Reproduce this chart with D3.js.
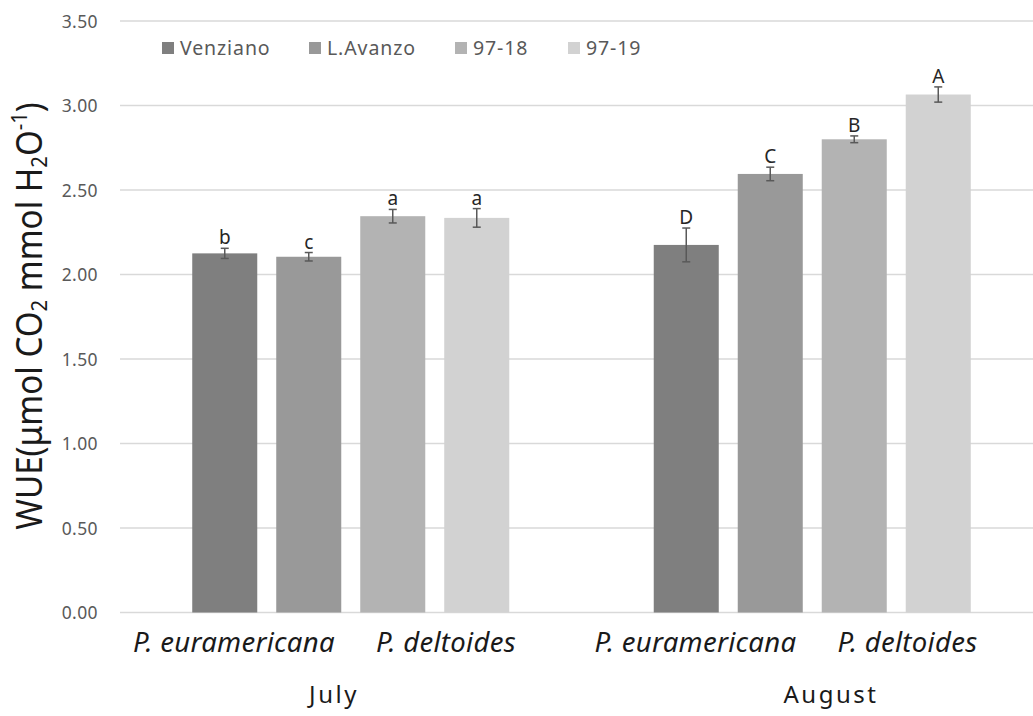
<!DOCTYPE html>
<html>
<head>
<meta charset="utf-8">
<script src="https://cdn.jsdelivr.net/npm/d3@7"></script>
<style>
  html, body { margin: 0; padding: 0; background: #fff; }
  svg { display: block; font-family: "Noto Sans", "Open Sans", sans-serif; }
</style>
</head>
<body>
<svg id="chart" width="1033" height="716"></svg>
<script>
// WUE by clone, July and August
const months = ["July", "August"];
const series = ["Venziano", "L.Avanzo", "97-18", "97-19"];
const species = ["P. euramericana", "P. deltoides"];
const julyValues = [2.125, 2.105, 2.345, 2.335];
const augustValues = [2.175, 2.595, 2.800, 3.065];
const julyErrors = [0.03, 0.025, 0.04, 0.055];
const augustErrors = [0.10, 0.04, 0.02, 0.045];
const julyLetters = ["b", "c", "a", "a"];
const augustLetters = ["D", "C", "B", "A"];
const yTicks = [0, 0.5, 1.0, 1.5, 2.0, 2.5, 3.0, 3.5];
const colors = ["#7f7f7f", "#999999", "#b3b3b3", "#d2d2d2"];

const valuesByMonth = { July: julyValues, August: augustValues };
const errorsByMonth = { July: julyErrors, August: augustErrors };
const lettersByMonth = { July: julyLetters, August: augustLetters };

const rows = [];
months.forEach(m => series.forEach((s, i) => rows.push({
  month: m, series: s, value: valuesByMonth[m][i],
  err: errorsByMonth[m][i], letter: lettersByMonth[m][i]
})));

const svg = d3.select("#chart");
const plotLeft = 120, plotRight = 1033, plotTop = 21, plotBottom = 612.5;

const y = d3.scaleLinear().domain([0, 3.5]).range([plotBottom, plotTop]);
const x0 = d3.scaleBand().domain(months).range([120, 1043]);
const x1 = d3.scaleBand().domain(series).range([0, x0.bandwidth()])
  .paddingInner(0.226).paddingOuter(0.86);
const xs = d3.scaleBand().domain(species).range([8, 432]);
const xm = d3.scalePoint().domain(months).range([334, 831]);
const color = d3.scaleOrdinal().domain(series).range(colors);

// gridlines
svg.append("g").selectAll("line").data(yTicks).join("line")
  .attr("x1", plotLeft).attr("x2", plotRight)
  .attr("y1", d => y(d)).attr("y2", d => y(d))
  .attr("stroke", "#d9d9d9").attr("stroke-width", 1.3);

// y tick labels
const yAxis = d3.axisLeft(y).tickValues(yTicks).tickFormat(d3.format(".2f")).tickSize(0).tickPadding(0);
const gy = svg.append("g").attr("transform", "translate(98,0)").call(yAxis);
gy.select(".domain").remove();
gy.selectAll("text").attr("font-size", 17.5).attr("fill", "#595959")
  .attr("letter-spacing", 0.4)
  .attr("font-family", "Noto Sans, sans-serif").attr("dy", "0.35em");

// bars
const groups = svg.append("g").selectAll("g").data(months).join("g")
  .attr("transform", m => `translate(${x0(m)},0)`);

groups.selectAll("rect").data(m => rows.filter(r => r.month === m)).join("rect")
  .attr("x", d => x1(d.series)).attr("width", x1.bandwidth())
  .attr("y", d => y(d.value)).attr("height", d => y(0) - y(d.value))
  .attr("fill", d => color(d.series));

// error bars
const eb = groups.selectAll("g.err").data(m => rows.filter(r => r.month === m)).join("g")
  .attr("class", "err")
  .attr("transform", d => `translate(${x1(d.series) + x1.bandwidth() / 2},0)`);
eb.append("line").attr("x1", 0).attr("x2", 0)
  .attr("y1", d => y(d.value + d.err)).attr("y2", d => y(d.value - d.err));
eb.append("line").attr("x1", -4).attr("x2", 4)
  .attr("y1", d => y(d.value + d.err)).attr("y2", d => y(d.value + d.err));
eb.append("line").attr("x1", -4).attr("x2", 4)
  .attr("y1", d => y(d.value - d.err)).attr("y2", d => y(d.value - d.err));
eb.selectAll("line").attr("stroke", "#595959").attr("stroke-width", 1.5);

// significance letters
eb.append("text").text(d => d.letter)
  .attr("x", 0).attr("y", d => y(d.value + d.err) - 4)
  .attr("text-anchor", "middle").attr("font-size", 19).attr("fill", "#262626");

// species labels
svg.append("g").selectAll("text")
  .data(months.flatMap(m => species.map(s => ({ m, s })))).join("text")
  .attr("x", d => x0(d.m) + xs(d.s) + xs.bandwidth() / 2)
  .attr("y", 652)
  .attr("text-anchor", "middle").attr("font-style", "italic")
  .attr("font-size", 27.5).attr("letter-spacing", 0.3).attr("fill", "#1a1a1a")
  .text(d => d.s);

// month labels
svg.append("g").selectAll("text").data(months).join("text")
  .attr("x", m => xm(m)).attr("y", 703)
  .attr("text-anchor", "middle").attr("font-size", 24).attr("letter-spacing", 2.5)
  .attr("fill", "#1a1a1a")
  .text(m => m);

// y axis title (slightly condensed along its run)
const title = svg.append("text")
  .attr("transform", "translate(42,316) rotate(-90) scale(0.92,1)")
  .attr("text-anchor", "middle").attr("font-size", 36)
  .attr("fill", "#1a1a1a");
title.append("tspan").text("WUE(μmol CO");
title.append("tspan").text("2").attr("font-size", 22).attr("dy", 5);
title.append("tspan").text(" mmol H").attr("dy", -5);
title.append("tspan").text("2").attr("font-size", 22).attr("dy", 5);
title.append("tspan").text("O").attr("dy", -5);
title.append("tspan").text("-1").attr("font-size", 22).attr("dy", -15);
title.append("tspan").text(")").attr("dy", 15);

// legend
const legendX = d3.scaleOrdinal().domain(series).range([162, 309, 455, 568]);
const lg = svg.append("g").selectAll("g").data(series).join("g")
  .attr("transform", s => `translate(${legendX(s)},48)`);
lg.append("rect").attr("x", 0).attr("y", -6).attr("width", 12).attr("height", 12)
  .attr("fill", s => color(s));
lg.append("text").attr("x", 18).attr("y", 0).attr("dy", "0.35em")
  .attr("font-size", 19.5).attr("letter-spacing", 0.9).attr("fill", "#595959").text(s => s);
</script>
</body>
</html>
